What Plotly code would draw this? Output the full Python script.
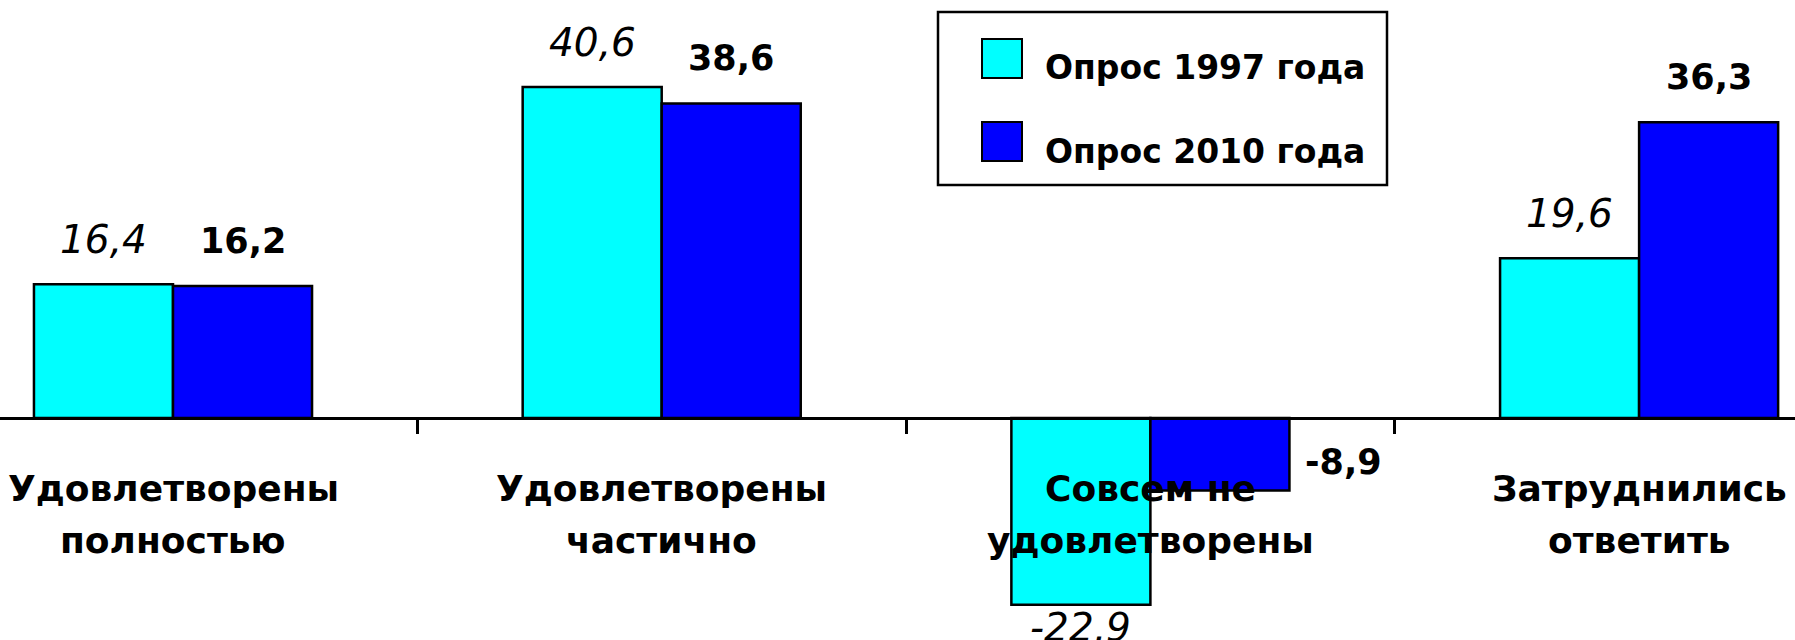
import plotly.graph_objects as go

categories = ["Удовлетворены<br>полностью", "Удовлетворены<br>частично",
              "Совсем не<br>удовлетворены", "Затруднились<br>ответить"]
series_names = ["Опрос 1997 года", "Опрос 2010 года"]
values_1997 = [16.4, 40.6, -22.9, 19.6]
values_2010 = [16.2, 38.6, -8.9, 36.3]
labels_1997 = ["16,4", "40,6", "-22,9", "19,6"]
labels_2010 = ["16,2", "38,6", "-8,9", "36,3"]

CYAN = "#00FFFF"
BLUE = "#0000FF"
FONT = "DejaVu Sans"

W, H = 1795, 640
ymin, ymax = -27.24, 51.29
xmin, xmax = -0.354, 3.319
bw = 0.2845
xs = list(range(len(categories)))

fig = go.Figure()
fig.add_trace(go.Bar(x=xs, y=values_1997, width=bw, offset=-bw, name=series_names[0],
                     marker=dict(color=CYAN, line=dict(color="black", width=2.5)),
                     showlegend=False, hoverinfo="skip"))
fig.add_trace(go.Bar(x=xs, y=values_2010, width=bw, offset=0, name=series_names[1],
                     marker=dict(color=BLUE, line=dict(color="black", width=2.5)),
                     showlegend=False, hoverinfo="skip"))

ann = []
# value labels
for i, (v, t) in enumerate(zip(values_1997, labels_1997)):
    if v >= 0:
        ann.append(dict(x=i - bw / 2, y=v, text="<i>" + t + "</i>", showarrow=False,
                        yanchor="middle", yshift=45,
                        font=dict(family=FONT, size=39, color="black")))
    else:
        ann.append(dict(x=i - bw / 2, y=v, text="<i>" + t + "</i>", showarrow=False,
                        yanchor="top", yshift=2,
                        font=dict(family=FONT, size=39, color="black")))
for i, (v, t) in enumerate(zip(values_2010, labels_2010)):
    if v >= 0:
        ann.append(dict(x=i + bw / 2, y=v, text="<b>" + t + "</b>", showarrow=False,
                        yanchor="middle", yshift=45,
                        font=dict(family=FONT, size=35, color="black")))
    else:
        ann.append(dict(x=i + bw, y=v, text="<b>" + t + "</b>", showarrow=False,
                        xanchor="left", xshift=14, yanchor="middle", yshift=29,
                        font=dict(family=FONT, size=35, color="black")))
# category labels, one annotation per line for the wider line spacing
for i, c in enumerate(categories):
    for j, line in enumerate(c.split("<br>")):
        ann.append(dict(x=i, y=0, text="<b>" + line + "</b>", showarrow=False,
                        yanchor="middle", yshift=-70 - 52 * j,
                        font=dict(family=FONT, size=36, color="black")))

# legend (manual, large swatches)
shapes = [dict(type="rect", xref="paper", yref="paper",
               x0=938 / W, x1=1387 / W, y0=1 - 185 / H, y1=1 - 12 / H,
               line=dict(color="black", width=2.5), fillcolor="white")]
for k, (col, name) in enumerate(zip([CYAN, BLUE], series_names)):
    top = 39 + k * 83
    shapes.append(dict(type="rect", xref="paper", yref="paper",
                       x0=982 / W, x1=1022 / W, y0=1 - (top + 39) / H, y1=1 - top / H,
                       line=dict(color="black", width=2), fillcolor=col))
    ann.append(dict(xref="paper", yref="paper", x=1043 / W, y=1 - (top + 29) / H,
                    text="<b>" + name + "</b>", showarrow=False,
                    xanchor="left", yanchor="middle",
                    font=dict(family=FONT, size=33, color="black")))

zero_frac = (0 - ymin) / (ymax - ymin)

fig.update_layout(
    width=W, height=H,
    margin=dict(l=0, r=0, t=0, b=0),
    paper_bgcolor="white", plot_bgcolor="white",
    barmode="overlay",
    annotations=ann, shapes=shapes,
    xaxis=dict(range=[xmin, xmax], anchor="free", position=zero_frac,
               showline=True, linecolor="black", linewidth=3,
               tickvals=[0.5, 1.5, 2.5], ticks="outside", ticklen=14, tickwidth=3,
               tickcolor="black", showticklabels=False, showgrid=False, zeroline=False),
    yaxis=dict(range=[ymin, ymax], visible=False, showgrid=False, zeroline=False),
)

fig.write_html("out.html", config={"displayModeBar": False},
               post_script="document.body.style.margin='0px';")
